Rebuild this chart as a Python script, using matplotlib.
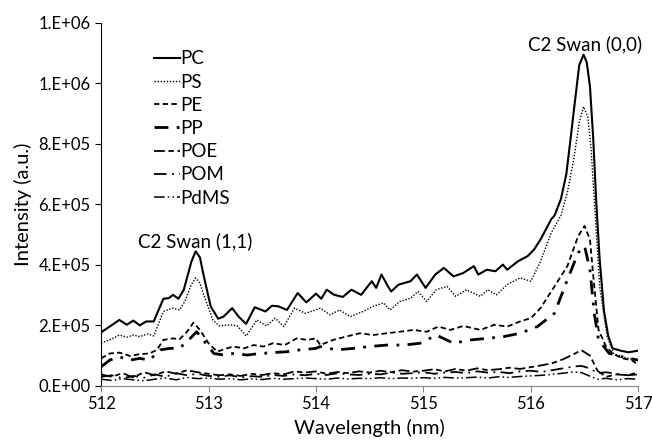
import matplotlib
matplotlib.use('Agg')
import matplotlib.pyplot as plt
import numpy as np

plt.rcParams['font.family'] = ['Lato', 'DejaVu Sans']

# values, intensity in thousands (a.u.)
wl_pc = [512.0, 512.08, 512.17, 512.24, 512.3, 512.36, 512.42, 512.49, 512.58, 512.63,
         512.67, 512.72, 512.77, 512.84, 512.88, 512.92, 512.95, 513.02, 513.09, 513.14,
         513.22, 513.28, 513.35, 513.43, 513.53, 513.59, 513.65, 513.73, 513.83, 513.91,
         514.0, 514.05, 514.1, 514.17, 514.25, 514.33, 514.42, 514.52, 514.56, 514.61,
         514.67, 514.7, 514.77, 514.88, 514.94, 515.02, 515.11, 515.19, 515.28, 515.37,
         515.47, 515.51, 515.59, 515.67, 515.74, 515.78, 515.88, 515.97, 516.03, 516.09,
         516.19, 516.22, 516.28, 516.33, 516.37, 516.41, 516.45, 516.49, 516.52, 516.55,
         516.58, 516.61, 516.64, 516.68, 516.72, 516.76, 516.84, 516.91, 516.99]
pc = [177, 196, 218, 202, 216, 200, 213, 213, 288, 290,
      301, 288, 318, 410, 445, 425, 373, 263, 222, 229,
      257, 229, 205, 260, 246, 265, 263, 251, 307, 276,
      305, 288, 318, 301, 294, 318, 301, 346, 324, 368,
      329, 312, 335, 346, 368, 324, 368, 390, 362, 373,
      396, 368, 384, 379, 401, 384, 412, 429, 451, 484,
      551, 563, 618, 700, 818, 940, 1060, 1095, 1070, 990,
      820, 600, 420, 250, 165, 124, 116, 111, 116]

wl_ps = [512.0, 512.08, 512.17, 512.24, 512.3, 512.36, 512.44, 512.49, 512.58, 512.67,
         512.73, 512.78, 512.84, 512.88, 512.92, 512.95, 513.04, 513.1, 513.2, 513.27,
         513.35, 513.45, 513.54, 513.62, 513.7, 513.8, 513.9, 514.0, 514.04, 514.13,
         514.22, 514.32, 514.44, 514.53, 514.63, 514.69, 514.78, 514.88, 514.95, 515.03,
         515.12, 515.22, 515.3, 515.4, 515.53, 515.6, 515.68, 515.78, 515.9, 516.0,
         516.09, 516.19, 516.28, 516.34, 516.4, 516.45, 516.49, 516.53, 516.56, 516.59,
         516.64, 516.71, 516.77, 516.87, 516.99]
ps = [141, 152, 168, 161, 168, 163, 172, 165, 246, 257,
      251, 279, 335, 357, 340, 307, 218, 198, 202, 198,
      165, 218, 198, 224, 196, 257, 240, 251, 257, 235,
      251, 229, 246, 263, 274, 251, 279, 290, 312, 279,
      318, 329, 296, 318, 296, 318, 301, 335, 357, 346,
      412, 506, 563, 640, 751, 870, 923, 890, 785, 618,
      329, 163, 107, 94, 85]

wl_pe = [512.0, 512.08, 512.17, 512.27, 512.36, 512.45, 512.52, 512.58, 512.67, 512.73,
         512.8, 512.86, 512.92, 513.0, 513.08, 513.17, 513.23, 513.33, 513.42, 513.51,
         513.6, 513.71, 513.82, 513.92, 514.0, 514.04, 514.16, 514.28, 514.41, 514.53,
         514.66, 514.78, 514.91, 515.03, 515.14, 515.25, 515.37, 515.53, 515.66, 515.78,
         515.9, 516.0, 516.09, 516.22, 516.34, 516.44, 516.5, 516.55, 516.59, 516.63,
         516.7, 516.76, 516.85, 516.94, 517.0]
pe = [91, 107, 110, 99, 105, 107, 119, 152, 157, 154,
      179, 209, 185, 141, 113, 124, 130, 124, 135, 130,
      141, 135, 157, 152, 157, 135, 152, 163, 174, 168,
      174, 179, 185, 179, 196, 185, 198, 185, 202, 196,
      213, 224, 257, 329, 396, 495, 529, 484, 329, 185,
      130, 107, 91, 85, 69]

wl_pp = [512.0, 512.08, 512.17, 512.27, 512.36, 512.45, 512.55, 512.64, 512.73, 512.83,
         512.89, 512.95, 513.05, 513.14, 513.23, 513.36, 513.48, 513.6, 513.73, 513.85,
         514.0, 514.04, 514.19, 514.35, 514.5, 514.66, 514.82, 514.97, 515.12, 515.28,
         515.44, 515.59, 515.75, 515.9, 516.06, 516.22, 516.34, 516.44, 516.5, 516.55,
         516.59, 516.63, 516.73, 516.85, 517.0]
pp = [63, 85, 96, 85, 91, 85, 119, 124, 124, 157,
      179, 152, 107, 102, 107, 102, 107, 110, 113, 119,
      124, 130, 119, 124, 130, 135, 135, 141, 168, 141,
      152, 157, 163, 174, 196, 240, 351, 440, 462, 384,
      240, 152, 107, 96, 85]

wl_low = [512.0, 512.1, 512.2, 512.3, 512.4, 512.5, 512.6, 512.7, 512.8, 512.9,
          513.0, 513.1, 513.2, 513.3, 513.4, 513.5, 513.6, 513.7, 513.8, 513.9,
          514.0, 514.1, 514.2, 514.3, 514.4, 514.5, 514.6, 514.7, 514.8, 514.9,
          515.0, 515.1, 515.2, 515.3, 515.4, 515.5, 515.6, 515.7, 515.8, 515.9,
          516.0, 516.1, 516.2, 516.3, 516.4, 516.47, 516.55, 516.62, 516.7, 516.8,
          516.9, 517.0]
poe = [38, 30, 42, 28, 45, 35, 48, 40, 52, 45,
       40, 35, 38, 33, 40, 36, 42, 38, 48, 44,
       48, 40, 46, 42, 48, 44, 50, 45, 52, 47,
       50, 55, 48, 56, 50, 58, 52, 55, 60, 56,
       62, 68, 75, 88, 105, 118, 100, 50, 30, 38,
       35, 45]
pom = [30, 35, 25, 33, 27, 38, 30, 42, 35, 40,
       33, 30, 35, 28, 32, 30, 36, 33, 38, 35,
       40, 36, 42, 38, 36, 40, 38, 44, 40, 42,
       45, 40, 44, 46, 42, 48, 44, 46, 42, 48,
       50, 46, 52, 58, 64, 66, 58, 42, 45, 40,
       35, 38]
pdms = [22, 18, 24, 20, 17, 22, 26, 20, 28, 24,
        26, 22, 24, 20, 23, 21, 25, 22, 24, 26,
        24, 22, 26, 23, 25, 24, 27, 24, 26, 25,
        27, 25, 28, 26, 27, 29, 26, 30, 28, 31,
        33, 35, 38, 42, 46, 44, 32, 22, 25, 20,
        24, 22]

series = [
    ('PC', wl_pc, pc, dict(ls='-', lw=1.5)),
    ('PS', wl_ps, ps, dict(ls=(0, (1, 1.2)), lw=1.0)),
    ('PE', wl_pe, pe, dict(ls=(0, (3, 1.8)), lw=1.3)),
    ('PP', wl_pp, pp, dict(ls=(0, (5, 3, 1, 3)), lw=2.0)),
    ('POE', wl_low, poe, dict(ls=(0, (6, 2, 3, 2)), lw=1.3)),
    ('POM', wl_low, pom, dict(ls=(0, (7, 3, 1, 3)), lw=1.3)),
    ('PdMS', wl_low, pdms, dict(ls=(0, (7, 2, 1, 2, 1, 2)), lw=1.1)),
]

yticks = [0, 2e5, 4e5, 6e5, 8e5, 1e6, 1.2e6]
ytick_labels = ['0.E+00', '2.E+05', '4.E+05', '6.E+05', '8.E+05', '1.E+06', '1.E+06']

fig = plt.figure(figsize=(6.52, 4.41), dpi=100)
ax = fig.add_axes([0.155, 0.125, 0.824, 0.823])

for name, x, y, st in series:
    ax.plot(x, np.array(y) * 1e3, color='black', label=name, **st)

ax.set_xlim(512, 517)
ax.set_ylim(0, 1.2e6)
ax.set_xticks([512, 513, 514, 515, 516, 517])
ax.set_yticks(yticks)
ax.set_yticklabels(ytick_labels)
ax.tick_params(axis='both', labelsize=12, direction='out', length=4, width=0.8)
ax.tick_params(axis='x', colors='#868686', labelcolor='black')
for s in ['top', 'right']:
    ax.spines[s].set_visible(False)
ax.spines['bottom'].set_color('#868686')
ax.spines['left'].set_color('black')

ax.set_xlabel('Wavelength (nm)', fontsize=14.5, labelpad=5)
ax.set_ylabel('Intensity (a.u.)', fontsize=14.5, labelpad=5)

ax.text(512.88, 4.48e5, 'C2 Swan (1,1)', fontsize=13.5, ha='center', va='bottom')
ax.text(516.5, 1.1e6, 'C2 Swan (0,0)', fontsize=13.5, ha='center', va='bottom')

ax.legend(loc='upper left', bbox_to_anchor=(0.085, 0.945), frameon=False, fontsize=13.5,
          handlelength=1.35, handletextpad=0.05, labelspacing=0.33, borderaxespad=0)

fig.savefig('out.png', dpi=100)
